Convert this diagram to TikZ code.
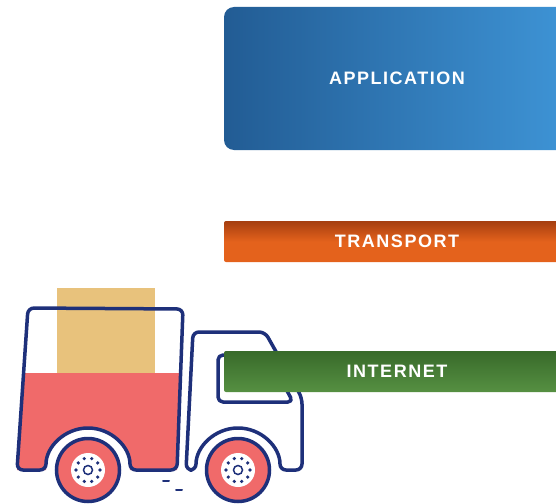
\documentclass[tikz,border=0pt]{standalone}
\usepackage{fontspec}
\newfontfamily\layerFont[LetterSpace=8.5]{Liberation Sans Bold}
\usetikzlibrary{shapes, positioning}
\definecolor{navyColor}{RGB}{30,48,122}
\definecolor{bodyRed}{RGB}{240,106,106}
\definecolor{boxColor}{RGB}{232,194,124}
\definecolor{appDark}{RGB}{34,92,148}
\definecolor{appLight}{RGB}{62,148,214}
\definecolor{tpDark}{RGB}{165,62,16}
\definecolor{tpMain}{RGB}{228,98,28}
\definecolor{netDark}{RGB}{56,106,42}
\definecolor{netMain}{RGB}{86,144,66}
\tikzstyle{layer}=[rectangle, minimum width=346pt, align=center, inner sep=0pt,
text=white, font=\layerFont\fontsize{18}{20}\selectfont]
\tikzstyle{truckLine}=[draw=navyColor, line width=3.5pt, line join=round]
\tikzstyle{wheelRim}=[draw=navyColor, line width=3.5pt, fill=bodyRed]

\begin{document}
\begin{tikzpicture}[x=1pt, y=1pt]
  \useasboundingbox (0,0) rectangle (556,-503);
  \clip (0,0) rectangle (556,-503);
  % cargo box
  \fill[white] (28,-308) -- (183,-309) -- (177,-470) -- (130,-470)
    arc (0:180:42) -- (17,-470) -- cycle;
  \begin{scope}
    \clip (0,-373) rectangle (200,-480);
    \fill[bodyRed] (28,-308) -- (183,-309) -- (177,-470) -- (130,-470)
      arc (0:180:42) -- (17,-470) -- cycle;
  \end{scope}
  \fill[boxColor] (57,-288) rectangle (155,-373);
  \draw[truckLine, rounded corners=6pt] (28,-308) -- (183,-309) -- (177,-470)
    -- (130,-470) arc (0:180:42) -- (17,-470) -- cycle;
  % cab and window
  \draw[truckLine, fill=white, rounded corners=6pt] (193,-332) -- (265,-332)
    -- (302,-398) -- (302,-470) -- (280,-470) arc (0:180:42) -- (186,-470) -- cycle;
  \draw[truckLine, rounded corners=5pt] (218,-355) -- (268,-355) -- (293,-402)
    -- (218,-402) -- cycle;
  % wheels
  \foreach \wx in {88,238}{
    \draw[wheelRim] (\wx,-470) circle (31.5);
    \fill[white] (\wx,-470) circle (17);
    \foreach \a in {0,36,...,324}
      \fill[navyColor] ([shift={(\a:12)}]\wx,-470) circle (1.8);
    \draw[navyColor, line width=1.5pt] (\wx,-470) circle (4.5);
  }
  \draw[navyColor, line width=2pt, line cap=round] (163,-481) -- (169,-481)
    (176,-490) -- (182,-490);
  % layers
  \node (application) [layer, rounded corners=10pt, minimum height=143pt,
    left color=appDark, right color=appLight] at (397,-78.5) {APPLICATION};
  \node (transport) [layer, rounded corners=2pt, minimum height=41pt,
    top color=tpDark, bottom color=tpMain, middle color=tpMain] at (397,-241.5) {TRANSPORT};
  \node (internet) [layer, rounded corners=2pt, minimum height=41pt,
    top color=netDark, bottom color=netMain] at (397,-371.5) {INTERNET};
\end{tikzpicture}
\end{document}
